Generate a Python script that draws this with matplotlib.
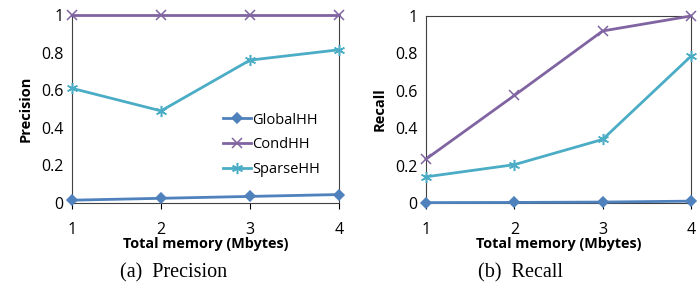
import numpy as np
import matplotlib.pyplot as plt

mem = [1, 2, 3, 4]
series = ['GlobalHH', 'CondHH', 'SparseHH']

prec_global = [0.015, 0.025, 0.035, 0.045]
prec_cond = [1.0, 1.0, 1.0, 1.0]
prec_sparse = [0.61, 0.49, 0.76, 0.815]

rec_global = [0.002, 0.003, 0.005, 0.01]
rec_cond = [0.235, 0.575, 0.92, 1.0]
rec_sparse = [0.14, 0.205, 0.34, 0.785]

colors = ['#4F81BD', '#8064A2', '#4BACC6']
markers = ['D', 'x', (6, 2, 0)]
msizes = [5, 7, 8]

plt.rcParams['font.family'] = ['Open Sans', 'DejaVu Sans']

fig = plt.figure(figsize=(6.97, 2.89), dpi=100)
ax1 = fig.add_axes([72/697, 1-203/289, 267/697, 188/289])
ax2 = fig.add_axes([426/697, 1-203/289, 265/697, 187/289])

def draw(ax, data, ylabel):
	for ys, c, m, s, name in zip(data, colors, markers, msizes, series):
		ax.plot(mem, ys, color=c, marker=m, markersize=s, lw=2,
			markeredgewidth=1.1, label=name, clip_on=False, zorder=3)
	ax.set_xlim(1, 4)
	ax.set_ylim(0, 1)
	ax.set_xticks(mem)
	ax.set_yticks([0, 0.2, 0.4, 0.6, 0.8, 1])
	ax.set_yticklabels(['0', '0.2', '0.4', '0.6', '0.8', '1'])
	ax.tick_params(axis='x', direction='out', length=4, width=0.8, pad=10, labelsize=11.5)
	ax.tick_params(axis='y', length=0, pad=6, labelsize=11.5)
	for sp in ax.spines.values():
		sp.set_linewidth(0.8)
		sp.set_color('#404040')
	ax.set_xlabel('Total memory (Mbytes)', fontweight='bold', fontsize=10.4, labelpad=-1)
	ax.set_ylabel(ylabel, fontweight='bold', fontsize=10.5, labelpad=6)

draw(ax1, [prec_global, prec_cond, prec_sparse], 'Precision')
draw(ax2, [rec_global, rec_cond, rec_sparse], 'Recall')

ax1.legend(loc='center left', bbox_to_anchor=(223/697, 1-145/289),
	bbox_transform=fig.transFigure, frameon=False, fontsize=10.5,
	handlelength=1.9, handletextpad=0.1, labelspacing=0.68, borderpad=0, borderaxespad=0)

fig.text(174/697, 1-273/289, '(a)  Precision', ha='center', va='center',
	family='Liberation Serif', fontsize=14.5)
fig.text(520/697, 1-273/289, '(b)  Recall', ha='center', va='center',
	family='Liberation Serif', fontsize=14.5)

fig.savefig('out.png', dpi=100)
